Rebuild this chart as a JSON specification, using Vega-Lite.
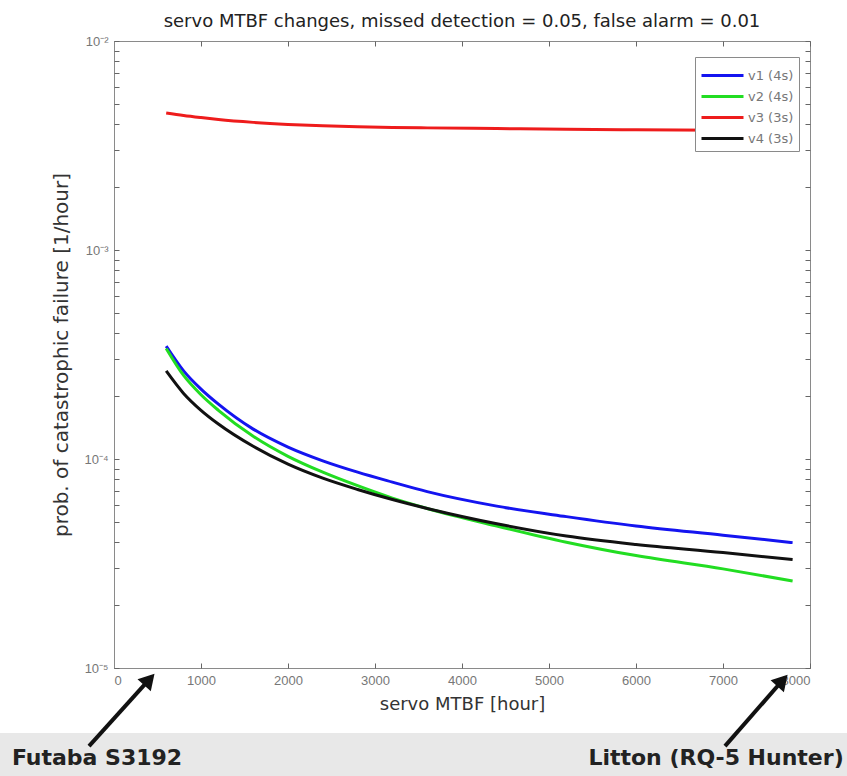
{
  "$schema": "https://vega.github.io/schema/vega-lite/v6.json",
  "width": 696,
  "height": 627,
  "autosize": {"type": "none"},
  "padding": {"left": 114, "top": 41, "right": 37, "bottom": 108},
  "background": "white",
  "title": {
    "text": "servo MTBF changes, missed detection = 0.05, false alarm = 0.01",
    "font": "DejaVu Sans",
    "fontSize": 18,
    "fontWeight": "normal",
    "color": "#222222",
    "offset": 4
  },
  "config": {
    "view": {"stroke": "#8a8a8a", "strokeWidth": 1},
    "axis": {
      "grid": false,
      "domainColor": "#8a8a8a",
      "tickColor": "#666666",
      "tickWidth": 1,
      "tickSize": 5,
      "labelFont": "Liberation Sans",
      "labelFontSize": 13,
      "labelColor": "#777777",
      "titleFont": "DejaVu Sans",
      "titleFontWeight": "normal",
      "titleColor": "#333333",
      "labelOverlap": false
    }
  },
  "datasets": {
    "curves": [
      {"series": "v1 (4s)", "mtbf": 600, "p": 0.000347},
      {"series": "v1 (4s)", "mtbf": 800, "p": 0.000264},
      {"series": "v1 (4s)", "mtbf": 1000, "p": 0.000216},
      {"series": "v1 (4s)", "mtbf": 1200, "p": 0.000183},
      {"series": "v1 (4s)", "mtbf": 1600, "p": 0.000139},
      {"series": "v1 (4s)", "mtbf": 2000, "p": 0.000114},
      {"series": "v1 (4s)", "mtbf": 2400, "p": 0.000098},
      {"series": "v1 (4s)", "mtbf": 2800, "p": 0.0000865},
      {"series": "v1 (4s)", "mtbf": 3200, "p": 0.0000775},
      {"series": "v1 (4s)", "mtbf": 3600, "p": 0.0000698},
      {"series": "v1 (4s)", "mtbf": 4400, "p": 0.0000595},
      {"series": "v1 (4s)", "mtbf": 5200, "p": 0.000053},
      {"series": "v1 (4s)", "mtbf": 6000, "p": 0.0000478},
      {"series": "v1 (4s)", "mtbf": 7000, "p": 0.0000432},
      {"series": "v1 (4s)", "mtbf": 7800, "p": 0.0000398},
      {"series": "v2 (4s)", "mtbf": 600, "p": 0.000338},
      {"series": "v2 (4s)", "mtbf": 800, "p": 0.000251},
      {"series": "v2 (4s)", "mtbf": 1000, "p": 0.000203},
      {"series": "v2 (4s)", "mtbf": 1200, "p": 0.000171},
      {"series": "v2 (4s)", "mtbf": 1600, "p": 0.0001285},
      {"series": "v2 (4s)", "mtbf": 2000, "p": 0.000103},
      {"series": "v2 (4s)", "mtbf": 2400, "p": 0.0000865},
      {"series": "v2 (4s)", "mtbf": 2800, "p": 0.0000745},
      {"series": "v2 (4s)", "mtbf": 3200, "p": 0.000065},
      {"series": "v2 (4s)", "mtbf": 3600, "p": 0.000058},
      {"series": "v2 (4s)", "mtbf": 4400, "p": 0.0000478},
      {"series": "v2 (4s)", "mtbf": 5200, "p": 0.00004},
      {"series": "v2 (4s)", "mtbf": 6000, "p": 0.0000345},
      {"series": "v2 (4s)", "mtbf": 7000, "p": 0.0000298},
      {"series": "v2 (4s)", "mtbf": 7800, "p": 0.0000261},
      {"series": "v3 (3s)", "mtbf": 600, "p": 0.00452},
      {"series": "v3 (3s)", "mtbf": 800, "p": 0.0044},
      {"series": "v3 (3s)", "mtbf": 1000, "p": 0.0043},
      {"series": "v3 (3s)", "mtbf": 1200, "p": 0.00421},
      {"series": "v3 (3s)", "mtbf": 1600, "p": 0.00408},
      {"series": "v3 (3s)", "mtbf": 2000, "p": 0.00399},
      {"series": "v3 (3s)", "mtbf": 2400, "p": 0.00393},
      {"series": "v3 (3s)", "mtbf": 2800, "p": 0.00389},
      {"series": "v3 (3s)", "mtbf": 3200, "p": 0.00386},
      {"series": "v3 (3s)", "mtbf": 3600, "p": 0.00384},
      {"series": "v3 (3s)", "mtbf": 4400, "p": 0.00381},
      {"series": "v3 (3s)", "mtbf": 5200, "p": 0.00378},
      {"series": "v3 (3s)", "mtbf": 6000, "p": 0.00376},
      {"series": "v3 (3s)", "mtbf": 7000, "p": 0.00374},
      {"series": "v3 (3s)", "mtbf": 7800, "p": 0.00372},
      {"series": "v4 (3s)", "mtbf": 600, "p": 0.000264},
      {"series": "v4 (3s)", "mtbf": 800, "p": 0.000206},
      {"series": "v4 (3s)", "mtbf": 1000, "p": 0.000171},
      {"series": "v4 (3s)", "mtbf": 1200, "p": 0.000147},
      {"series": "v4 (3s)", "mtbf": 1600, "p": 0.000115},
      {"series": "v4 (3s)", "mtbf": 2000, "p": 0.0000945},
      {"series": "v4 (3s)", "mtbf": 2400, "p": 0.000081},
      {"series": "v4 (3s)", "mtbf": 2800, "p": 0.0000715},
      {"series": "v4 (3s)", "mtbf": 3200, "p": 0.000064},
      {"series": "v4 (3s)", "mtbf": 3600, "p": 0.000058},
      {"series": "v4 (3s)", "mtbf": 4400, "p": 0.000049},
      {"series": "v4 (3s)", "mtbf": 5200, "p": 0.0000428},
      {"series": "v4 (3s)", "mtbf": 6000, "p": 0.000039},
      {"series": "v4 (3s)", "mtbf": 7000, "p": 0.0000357},
      {"series": "v4 (3s)", "mtbf": 7800, "p": 0.000033}
    ],
    "arrows": [
      {"device": "Futaba S3192", "x": -287, "y": 0.00000423, "xh": 406, "yh": 0.00000882},
      {"device": "Litton (RQ-5 Hunter)", "x": 7023, "y": 0.00000423, "xh": 7683, "yh": 0.00000871}
    ],
    "notes": [
      {"label": "Futaba S3192", "x": -195, "y": 0.00000371},
      {"label": "Litton (RQ-5 Hunter)", "x": 6920, "y": 0.00000371}
    ]
  },
  "layer": [
    {
      "data": {"values": [{}]},
      "mark": {"type": "rect", "color": "#e8e8e8"},
      "encoding": {
        "x": {"datum": -1400, "type": "quantitative", "scale": {"domain": [0, 8000], "nice": false}, "axis": null},
        "x2": {"datum": 8700},
        "y": {"datum": 0.00000489, "type": "quantitative", "scale": {"type": "log", "domain": [0.00001, 0.01], "nice": false}, "axis": null},
        "y2": {"datum": 0.000002}
      }
    },
    {
      "data": {"name": "curves"},
      "mark": {"type": "line", "strokeWidth": 3, "interpolate": "monotone", "clip": true},
      "encoding": {
        "x": {
          "field": "mtbf", "type": "quantitative",
          "scale": {"domain": [0, 8000], "nice": false},
          "axis": {
            "orient": "bottom",
            "values": [0, 1000, 2000, 3000, 4000, 5000, 6000, 7000, 8000],
            "format": "d",
            "ticks": false,
            "labelPadding": 6,
            "title": "servo MTBF [hour]",
            "titleFontSize": 18,
            "titlePadding": 8
          }
        },
        "y": {
          "field": "p", "type": "quantitative",
          "scale": {"type": "log", "domain": [0.00001, 0.01], "nice": false},
          "axis": {
            "orient": "left",
            "values": [0.00001, 0.0001, 0.001, 0.01],
            "labelExpr": "datum.value == 0.01 ? '10⁻²' : datum.value == 0.001 ? '10⁻³' : datum.value == 0.0001 ? '10⁻⁴' : datum.value == 0.00001 ? '10⁻⁵' : ''",
            "ticks": false,
            "labelPadding": 6,
            "title": "prob. of catastrophic failure [1/hour]",
            "titleFontSize": 20,
            "titlePadding": 12
          }
        },
        "color": {
          "field": "series", "type": "nominal",
          "scale": {
            "domain": ["v1 (4s)", "v2 (4s)", "v3 (3s)", "v4 (3s)"],
            "range": ["#1414f0", "#22dd22", "#ee1c1c", "#111111"]
          },
          "legend": {
            "orient": "none",
            "legendX": 581,
            "legendY": 16,
            "title": null,
            "symbolType": "M-1,0H2.5",
            "symbolSize": 576,
            "symbolStrokeWidth": 3,
            "labelFont": "DejaVu Sans",
            "labelFontSize": 13,
            "labelColor": "#777777",
            "labelOffset": 21,
            "labelExpr": "datum.label + '  '",
            "strokeColor": "#8a8a8a",
            "fillColor": "white",
            "padding": 5,
            "rowPadding": 0
          }
        }
      }
    },
    {
      "data": {"name": "curves"},
      "mark": {"type": "point", "opacity": 0},
      "encoding": {
        "x": {
          "field": "mtbf", "type": "quantitative",
          "scale": {"domain": [0, 8000], "nice": false},
          "axis": {"orient": "top", "offset": -627, "domain": false, "values": [0, 1000, 2000, 3000, 4000, 5000, 6000, 7000, 8000], "labels": false, "title": null}
        },
        "y": {
          "field": "p", "type": "quantitative",
          "scale": {"type": "log", "domain": [0.00001, 0.01], "nice": false},
          "axis": {
            "orient": "right", "offset": -696, "domain": false,
            "values": [0.00001, 0.00002, 0.00003, 0.00004, 0.00005, 0.00006, 0.00007, 0.00008, 0.00009, 0.0001, 0.0002, 0.0003, 0.0004, 0.0005, 0.0006, 0.0007, 0.0008, 0.0009, 0.001, 0.002, 0.003, 0.004, 0.005, 0.006, 0.007, 0.008, 0.009, 0.01],
            "labels": false, "title": null
          }
        }
      }
    },
    {
      "data": {"name": "curves"},
      "mark": {"type": "point", "opacity": 0},
      "encoding": {
        "x": {
          "field": "mtbf", "type": "quantitative",
          "scale": {"domain": [0, 8000], "nice": false},
          "axis": {"orient": "bottom", "offset": -627, "domain": false, "values": [0, 1000, 2000, 3000, 4000, 5000, 6000, 7000, 8000], "labels": false, "title": null}
        },
        "y": {
          "field": "p", "type": "quantitative",
          "scale": {"type": "log", "domain": [0.00001, 0.01], "nice": false},
          "axis": {
            "orient": "left", "offset": -696, "domain": false,
            "values": [0.00001, 0.00002, 0.00003, 0.00004, 0.00005, 0.00006, 0.00007, 0.00008, 0.00009, 0.0001, 0.0002, 0.0003, 0.0004, 0.0005, 0.0006, 0.0007, 0.0008, 0.0009, 0.001, 0.002, 0.003, 0.004, 0.005, 0.006, 0.007, 0.008, 0.009, 0.01],
            "labels": false, "title": null
          }
        }
      }
    },
    {
      "data": {"name": "arrows"},
      "mark": {"type": "rule", "strokeWidth": 4, "color": "#111111"},
      "encoding": {
        "x": {"field": "x", "type": "quantitative", "scale": {"domain": [0, 8000], "nice": false}, "axis": null},
        "x2": {"field": "xh"},
        "y": {"field": "y", "type": "quantitative", "scale": {"type": "log", "domain": [0.00001, 0.01], "nice": false}, "axis": null},
        "y2": {"field": "yh"}
      }
    },
    {
      "data": {"name": "arrows"},
      "mark": {"type": "point", "shape": "triangle-up", "filled": true, "color": "#111111", "opacity": 1, "size": 320, "angle": 42},
      "encoding": {
        "x": {"field": "xh", "type": "quantitative", "scale": {"domain": [0, 8000], "nice": false}, "axis": null},
        "y": {"field": "yh", "type": "quantitative", "scale": {"type": "log", "domain": [0.00001, 0.01], "nice": false}, "axis": null}
      }
    },
    {
      "data": {"name": "notes"},
      "mark": {"type": "text", "font": "DejaVu Sans", "fontWeight": "bold", "fontSize": 22, "color": "#222222", "align": "center", "baseline": "middle"},
      "encoding": {
        "x": {"field": "x", "type": "quantitative", "scale": {"domain": [0, 8000], "nice": false}, "axis": null},
        "y": {"field": "y", "type": "quantitative", "scale": {"type": "log", "domain": [0.00001, 0.01], "nice": false}, "axis": null},
        "text": {"field": "label"}
      }
    }
  ],
  "resolve": {"axis": {"x": "independent", "y": "independent"}}
}
